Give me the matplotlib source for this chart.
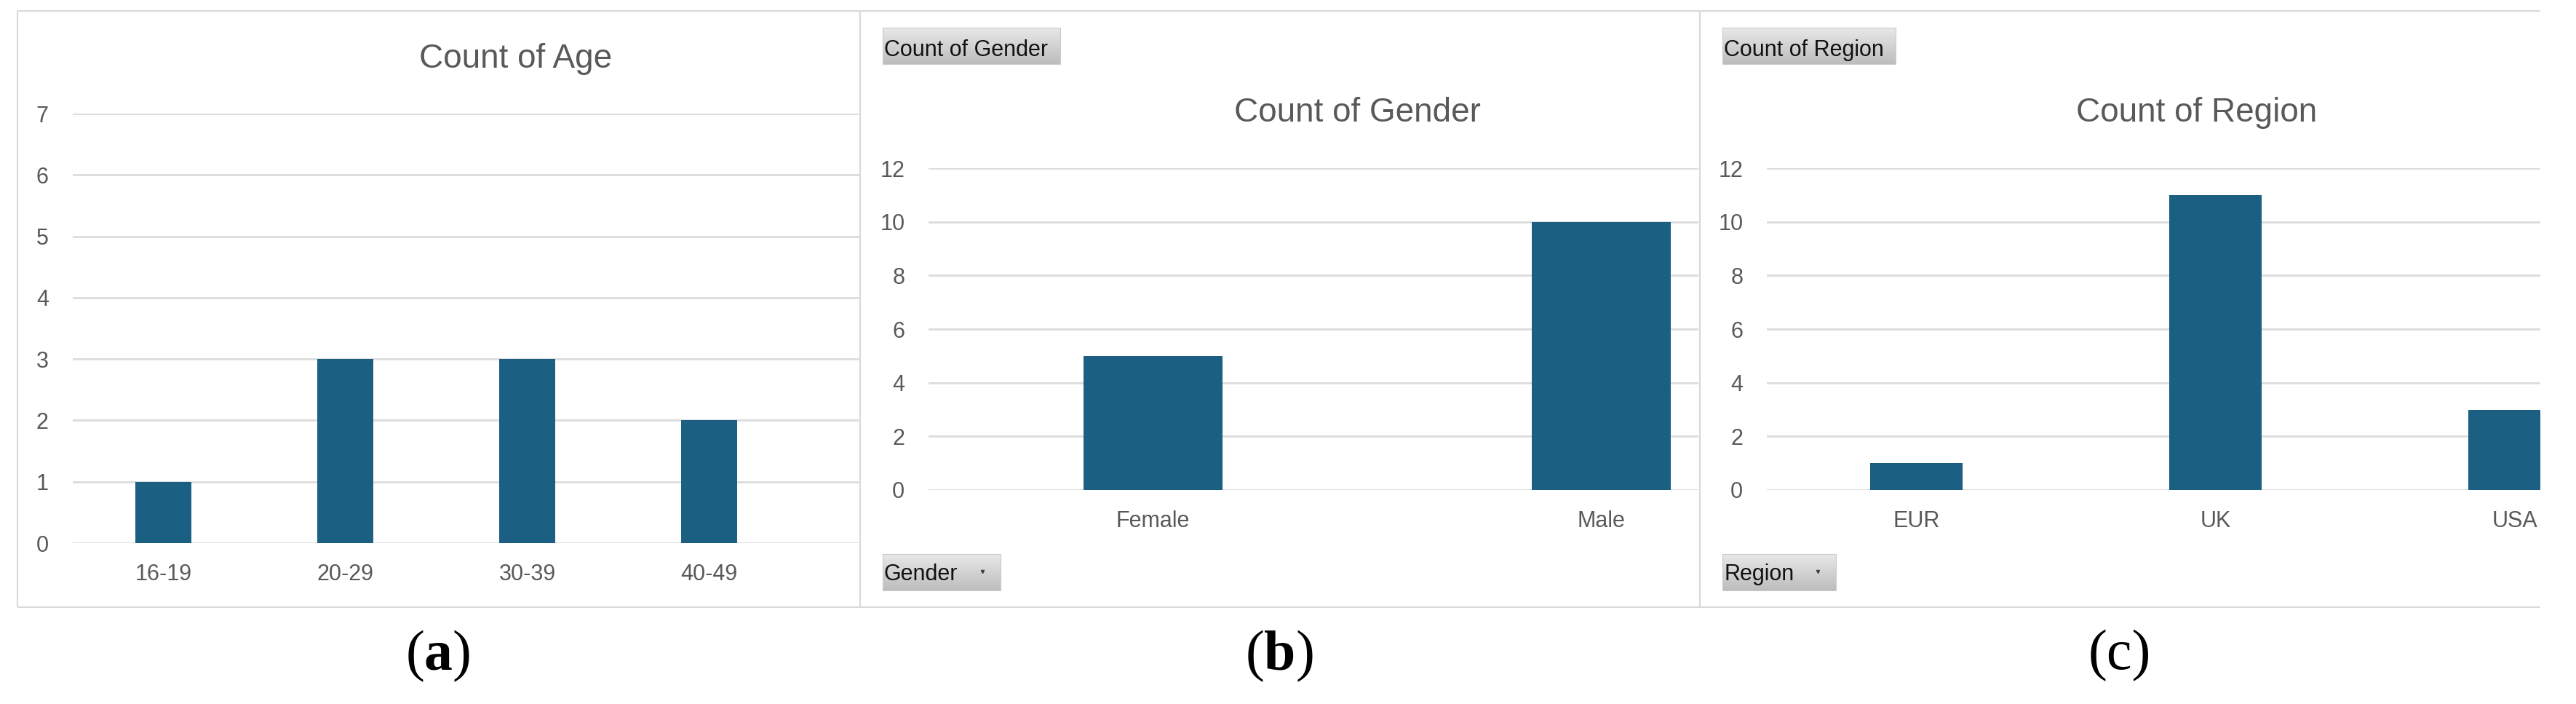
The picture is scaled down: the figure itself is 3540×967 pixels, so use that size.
import matplotlib
matplotlib.use('Agg')
import matplotlib.pyplot as plt
import numpy as np
from matplotlib import font_manager
from matplotlib.colors import LinearSegmentedColormap

# ---------------- data ----------------
age_groups = ['16-19', '20-29', '30-39', '40-49']
age_counts = [1, 3, 3, 2]
genders = ['Female', 'Male']
gender_counts = [5, 10]
regions = ['EUR', 'UK', 'USA']
region_counts = [1, 11, 3]
age_ticks = list(range(0, 8))
count_ticks = list(range(0, 13, 2))

# ---------------- fonts ----------------
names = {f.name for f in font_manager.fontManager.ttflist}
def pick(*cands):
    for c in cands:
        if c in names:
            return c
    return 'DejaVu Sans'
sans = pick('Liberation Sans', 'Arial', 'DejaVu Sans')
btnfont = pick('Liberation Sans', 'DejaVu Sans')
serif = pick('Liberation Serif', 'DejaVu Serif')

plt.rcParams['mathtext.fontset'] = 'custom'
plt.rcParams['mathtext.rm'] = serif
plt.rcParams['mathtext.bf'] = serif + ':bold'

W, H = 3540, 967
fig = plt.figure(figsize=(W / 100, H / 100), dpi=100)
fig.patch.set_facecolor('white')

bg = fig.add_axes([0, 0, 1, 1], zorder=0)
bg.set_xlim(0, W)
bg.set_ylim(H, 0)
bg.axis('off')

BAR = '#1b5f83'
GRID = '#dcdcdc'
TXT = '#595959'
BORDER = '#d9d9d9'
LW = 1.5

# panel borders
def hline(x1, x2, y):
    bg.plot([x1, x2], [y, y], color=BORDER, lw=LW, solid_capstyle='butt')
def vline(x, y1, y2):
    bg.plot([x, x], [y1, y2], color=BORDER, lw=LW, solid_capstyle='butt')

hline(24, 3491, 15)
hline(24, 3491, 834)
vline(24, 15, 834)
vline(1182, 15, 834)
vline(2336, 15, 834)

def chart(left, right, y0, ytop, cats, vals, ticks, xmax):
    ax = fig.add_axes([left / W, 1 - y0 / H, (right - left) / W, (y0 - ytop) / H], zorder=1)
    ax.set_facecolor('none')
    x = np.arange(len(cats))
    ax.bar(x, vals, width=0.31, color=BAR, zorder=3)
    ax.set_xlim(-0.5, xmax)
    ax.set_ylim(ticks[0], ticks[-1])
    ax.set_yticks(ticks)
    ax.set_xticks(x)
    ax.set_xticklabels(cats)
    ax.grid(axis='y', color=GRID, lw=2.0, zorder=0)
    ax.set_axisbelow(True)
    for s in ax.spines.values():
        s.set_visible(False)
    ax.tick_params(axis='both', length=0, labelsize=22, labelcolor=TXT)
    ax.tick_params(axis='y', pad=23.5)
    ax.tick_params(axis='x', pad=20)
    for lab in ax.get_xticklabels() + ax.get_yticklabels():
        lab.set_fontfamily(sans)
    return ax

ax1 = chart(99.5, 1182, 746, 156, age_groups, age_counts, age_ticks, 3.83)
ax2 = chart(1276, 2334, 673, 231, genders, gender_counts, count_ticks, 1.217)
ax3 = chart(2428, 3491, 673, 231, regions, region_counts, count_ticks, 2.086)

# chart titles
bg.text(708.5, 93, 'Count of Age', ha='center', va='baseline', fontsize=33,
        color=TXT, family=sans)
bg.text(1865, 167, 'Count of Gender', ha='center', va='baseline', fontsize=33,
        color=TXT, family=sans)
bg.text(3019, 167, 'Count of Region', ha='center', va='baseline', fontsize=33,
        color=TXT, family=sans)

# pivot field buttons
cmap = LinearSegmentedColormap.from_list('btn', ['#e8e8e8', '#bdbdbd'])
grad = np.linspace(0, 1, 64).reshape(-1, 1)
def button(x1, x2, y1, y2, label, baseline, arrow=False):
    bg.imshow(grad, extent=(x1, x2, y2, y1), aspect='auto', cmap=cmap,
              origin='upper', zorder=2, interpolation='bilinear')
    bg.plot([x1, x2, x2, x1, x1], [y1, y1, y2, y2, y1], color='#cbcbcb', lw=0.8, zorder=3)
    bg.text(x1 + 2, baseline, label, ha='left', va='baseline', fontsize=22,
            color='#111111', family=btnfont, zorder=4)
    if arrow:
        bg.plot([x2 - 25], [(y1 + y2) / 2 - 1], marker='v', ms=3.0, color='#404040', zorder=4)

button(1213, 1457, 38, 88, 'Count of Gender', 77)
button(1213, 1375, 761, 811, 'Gender', 797, arrow=True)
button(2367, 2605, 38, 88, 'Count of Region', 77)
button(2367, 2523, 761, 811, 'Region', 797, arrow=True)
bg.set_xlim(0, W)
bg.set_ylim(H, 0)

# captions
def caption(x, letter, bold):
    inner = r'$\mathbf{%s}$' % letter if bold else letter
    bg.text(x, 901, '(' + inner + ')', ha='center', va='center', fontsize=56,
            family=serif, color='black')

caption(602, 'a', True)
caption(1758, 'b', True)
caption(2913, 'c', False)

fig.savefig('out.png', dpi=100, facecolor='white')
